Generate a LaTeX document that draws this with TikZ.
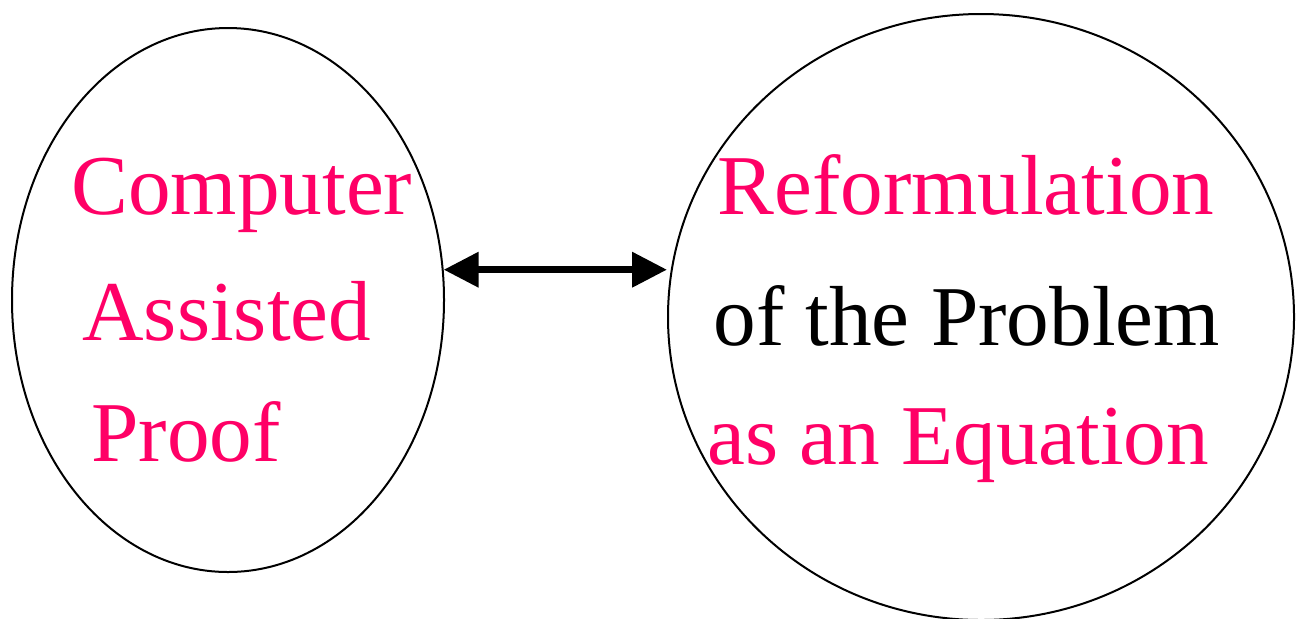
\documentclass[tikz,border=0pt]{standalone}
\usepackage{fontspec}
\setmainfont{Liberation Serif}
\usepackage{tikz}
\usetikzlibrary{arrows.meta,positioning,shapes.geometric}
\definecolor{rosered}{HTML}{FF0066}

\begin{document}
\begin{tikzpicture}[
    x=0.5pt,y=-0.5pt,
    bubble/.style={draw,ellipse,line width=1pt,inner sep=0pt},
    word/.style={anchor=base west,inner sep=0pt,font=\rmfamily\fontsize{42.6}{60}\selectfont,text=rosered},
    plainword/.style={word,text=black},
    dblarrow/.style={{Triangle[length=17.5pt,width=17pt]}-{Triangle[length=17.5pt,width=17pt]},line width=3.5pt}
]
\useasboundingbox (0,0) rectangle (1304,618);
\node[bubble,minimum width=216pt,minimum height=272pt] (cap) at (228,300) {};
\node[bubble,minimum width=313pt,minimum height=303pt] (ref) at (981,317) {};
% left bubble text
\node[word] (cap1) at (71,214) {Computer};
\node[word] (cap2) at (82,340) {Assisted};
\node[word] (cap3) at (91,461) {Proof};
% right bubble text
\node[word] (ref1) at (717,214) {Reformulation};
\node[plainword] (ref2) at (713,345) {of the Problem};
\node[word] (ref3) at (707,464) {as an Equation};
\draw[dblarrow] (cap.8.5) -- (cap.8.5 -| ref.west);
\end{tikzpicture}
\end{document}
